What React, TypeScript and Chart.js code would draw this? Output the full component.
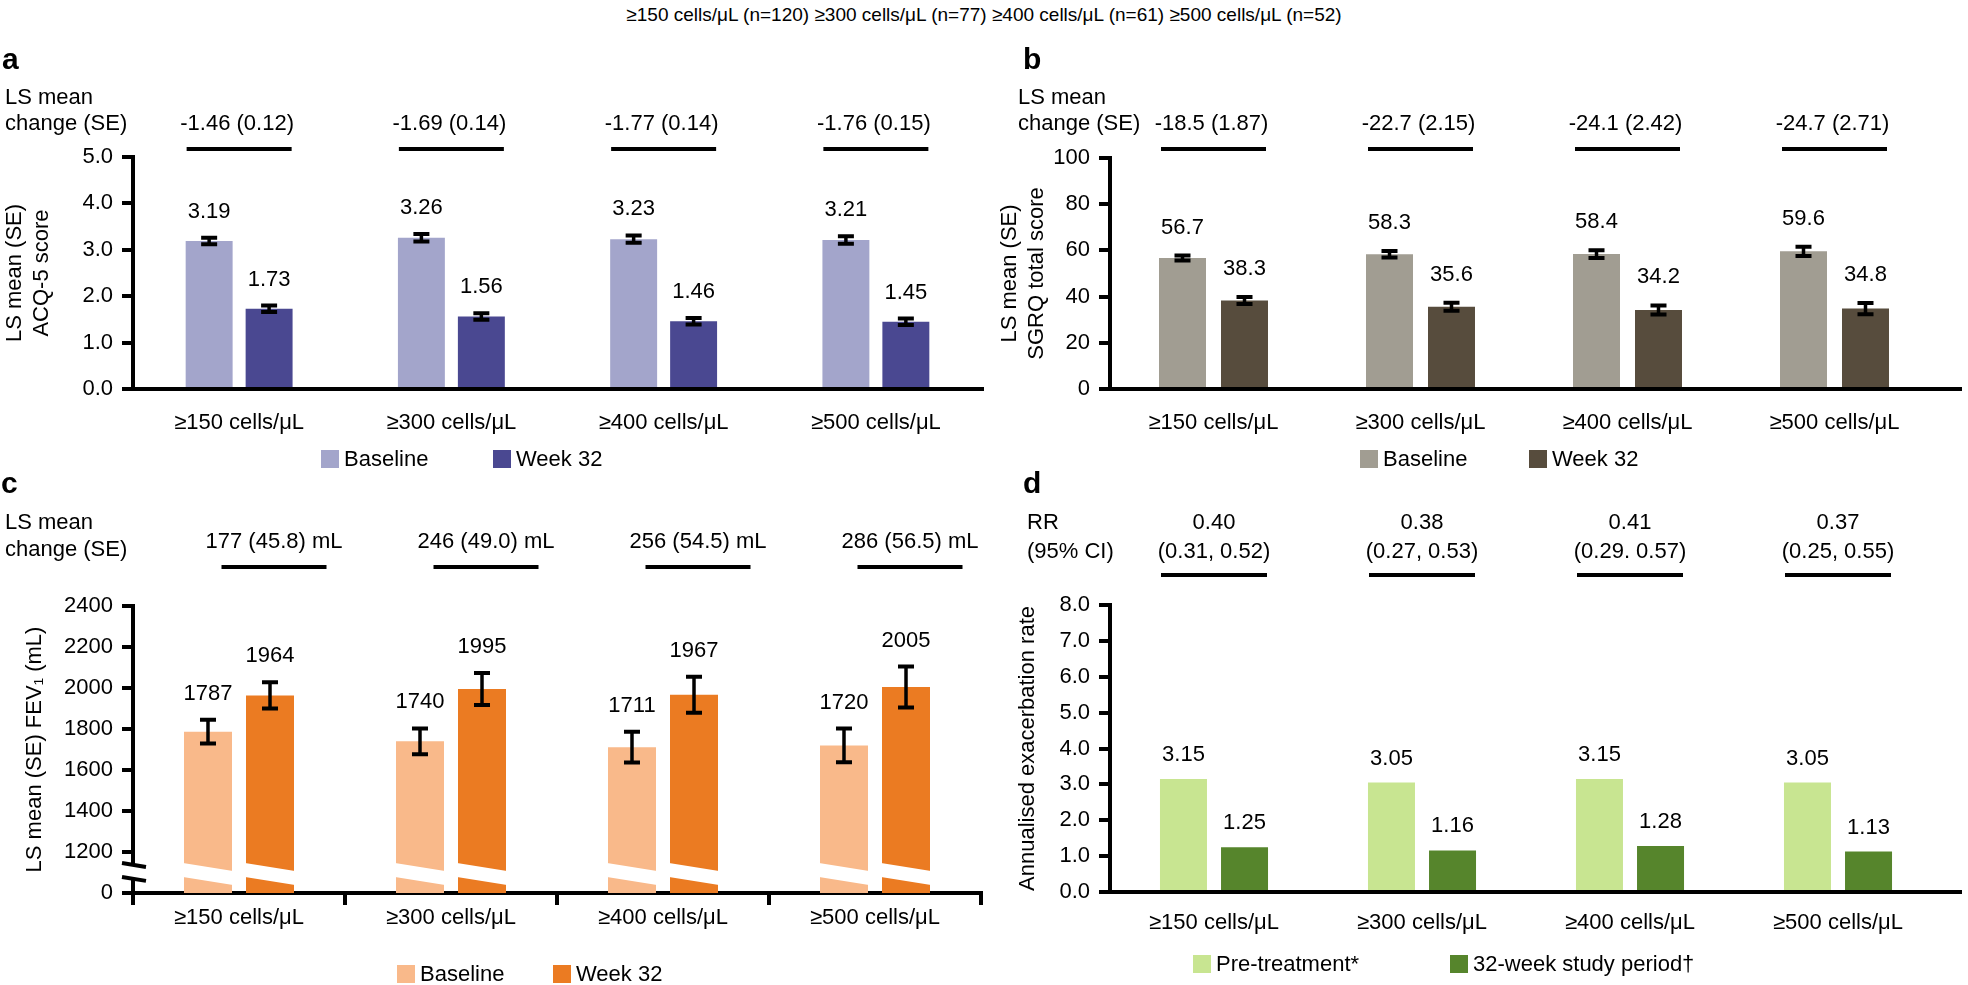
import React, { useEffect, useRef } from "react";
import { Chart, registerables } from "chart.js";

Chart.register(...registerables);

const FONT = "'Liberation Sans', Arial, Helvetica, sans-serif";

// ---------------- data ----------------
const categories = ["≥150 cells/μL", "≥300 cells/μL", "≥400 cells/μL", "≥500 cells/μL"];
const topTitle = "≥150 cells/μL (n=120) ≥300 cells/μL (n=77) ≥400 cells/μL (n=61) ≥500 cells/μL (n=52)";

// a: ACQ-5
const acqBaseline = [3.19, 3.26, 3.23, 3.21];
const acqBaselineSE = [0.07, 0.08, 0.08, 0.08];
const acqWeek32 = [1.73, 1.56, 1.46, 1.45];
const acqWeek32SE = [0.07, 0.07, 0.07, 0.07];
const acqChange = ["-1.46 (0.12)", "-1.69 (0.14)", "-1.77 (0.14)", "-1.76 (0.15)"];
const acqTicks = { min: 0, max: 5, step: 1 };

// b: SGRQ
const sgrqBaseline = [56.7, 58.3, 58.4, 59.6];
const sgrqBaselineSE = [1.1, 1.4, 1.7, 2.0];
const sgrqWeek32 = [38.3, 35.6, 34.2, 34.8];
const sgrqWeek32SE = [1.5, 1.7, 2.0, 2.4];
const sgrqChange = ["-18.5 (1.87)", "-22.7 (2.15)", "-24.1 (2.42)", "-24.7 (2.71)"];
const sgrqTicks = { min: 0, max: 100, step: 20 };

// c: FEV1
const fevBaseline = [1787, 1740, 1711, 1720];
const fevBaselineSE = [58, 63, 75, 82];
const fevWeek32 = [1964, 1995, 1967, 2005];
const fevWeek32SE = [64, 78, 88, 100];
const fevChange = ["177 (45.8) mL", "246 (49.0) mL", "256 (54.5) mL", "286 (56.5) mL"];
const fevTicks = { min: 1000, max: 2400, step: 200 }; // 1000 is shown as the broken-axis "0"
const fevBreak = { hi: 1146, lo: 1078 };

// d: exacerbations
const exaPre = [3.15, 3.05, 3.15, 3.05];
const exaStudy = [1.25, 1.16, 1.28, 1.13];
const exaRR = ["0.40", "0.38", "0.41", "0.37"];
const exaCI = ["(0.31, 0.52)", "(0.27, 0.53)", "(0.29. 0.57)", "(0.25, 0.55)"];
const exaTicks = { min: 0, max: 8, step: 1 };

// ---------------- panel specs ----------------
type Panel = {
  left: number; top: number; width: number; height: number;
  series: number[][]; se: (number[] | null)[];
  colors: string[]; legend: string[];
  ticks: { min: number; max: number; step: number };
  tickFmt: (v: number) => string; valFmt: (v: number) => string;
  yTitle: string | string[]; yTitlePad: number;
  pad: { left: number; right: number; top: number; bottom: number };
  yWidth: number; xHeight: number; catPct: number; barPct: number;
  xTicks: boolean; xLabelPad: number;
  letter: string; letterX: number; letterY: number;
  header: string[]; headerX: number; headerY: number[];
  values: string[][]; valueY: number[]; valueDx: number;
  lineY: number; lineDx: number; lineW: number;
  legendX: number[]; legendY: number;
  labelGap: number;
  axisEnd?: number;
  brk?: { hi: number; lo: number };
};

const PANELS: Panel[] = [
  {
    left: 0, top: 40, width: 984, height: 440,
    series: [acqBaseline, acqWeek32], se: [acqBaselineSE, acqWeek32SE],
    colors: ["#A3A5CB", "#4A4891"], legend: ["Baseline", "Week 32"],
    ticks: acqTicks, tickFmt: (v) => v.toFixed(1), valFmt: (v) => v.toFixed(2),
    yTitle: ["LS mean (SE)", "ACQ-5 score"], yTitlePad: 2,
    pad: { left: 0, right: 2, top: 117, bottom: 0 }, yWidth: 133, xHeight: 91,
    catPct: 0.565, barPct: 0.783, xTicks: false, xLabelPad: 21,
    letter: "a", letterX: 2, letterY: 29,
    header: ["LS mean", "change (SE)"], headerX: 5, headerY: [58, 84],
    values: acqChange.map((s) => [s]), valueY: [84], valueDx: -2,
    lineY: 109, lineDx: 0, lineW: 105,
    legendX: [321, 493], legendY: 419, labelGap: 26,
  },
  {
    left: 984, top: 40, width: 984, height: 440,
    series: [sgrqBaseline, sgrqWeek32], se: [sgrqBaselineSE, sgrqWeek32SE],
    colors: ["#A19D92", "#574C3D"], legend: ["Baseline", "Week 32"],
    ticks: sgrqTicks, tickFmt: (v) => String(v), valFmt: (v) => v.toFixed(1),
    yTitle: ["LS mean (SE)", "SGRQ total score"], yTitlePad: 13,
    pad: { left: 0, right: 30, top: 118, bottom: 0 }, yWidth: 126, xHeight: 91,
    catPct: 0.599, barPct: 0.758, xTicks: false, xLabelPad: 21,
    letter: "b", letterX: 39, letterY: 29,
    header: ["LS mean", "change (SE)"], headerX: 34, headerY: [58, 84],
    values: sgrqChange.map((s) => [s]), valueY: [84], valueDx: -2,
    lineY: 109, lineDx: 0, lineW: 105,
    legendX: [376, 545], legendY: 419, labelGap: 28, axisEnd: 978,
  },
  {
    left: 0, top: 460, width: 984, height: 525,
    series: [fevBaseline, fevWeek32], se: [fevBaselineSE, fevWeek32SE],
    colors: ["#F9B98A", "#EB7B22"], legend: ["Baseline", "Week 32"],
    ticks: fevTicks, tickFmt: (v) => (v === fevTicks.min ? "0" : String(v)), valFmt: (v) => String(v),
    yTitle: "LS mean (SE) FEV₁ (mL)", yTitlePad: 22,
    pad: { left: 0, right: 3, top: 146, bottom: 0 }, yWidth: 133, xHeight: 92,
    catPct: 0.585, barPct: 0.774, xTicks: true, xLabelPad: 0,
    letter: "c", letterX: 1, letterY: 33,
    header: ["LS mean", "change (SE)"], headerX: 5, headerY: [63, 90],
    values: fevChange.map((s) => [s]), valueY: [82], valueDx: 35,
    lineY: 107, lineDx: 35, lineW: 105,
    legendX: [397, 553], legendY: 514, labelGap: 26,
    brk: fevBreak,
  },
  {
    left: 984, top: 460, width: 984, height: 525,
    series: [exaPre, exaStudy], se: [null, null],
    colors: ["#C8E591", "#56852C"], legend: ["Pre-treatment*", "32-week study period†"],
    ticks: exaTicks, tickFmt: (v) => v.toFixed(1), valFmt: (v) => v.toFixed(2),
    yTitle: "Annualised exacerbation rate", yTitlePad: 31,
    pad: { left: 0, right: 26, top: 145, bottom: 0 }, yWidth: 126, xHeight: 93,
    catPct: 0.587, barPct: 0.77, xTicks: false, xLabelPad: 18,
    letter: "d", letterX: 39, letterY: 33,
    header: ["RR", "(95% CI)"], headerX: 43, headerY: [63, 92],
    values: exaRR.map((r, i) => [r, exaCI[i]]), valueY: [63, 92], valueDx: 0,
    lineY: 115, lineDx: 0, lineW: 106,
    legendX: [209, 466], legendY: 504, labelGap: 24, axisEnd: 978,
  },
];

function makePlugin(p: Panel) {
  return {
    id: "panelDecor" + p.letter,
    afterDatasetsDraw(chart: any) {
      const ctx = chart.ctx as CanvasRenderingContext2D;
      const ys = chart.scales.y;
      ctx.save();
      // broken axis / bars
      if (p.brk) {
        const yHi = ys.getPixelForValue(p.brk.hi);
        const yLo = ys.getPixelForValue(p.brk.lo);
        const slope = 0.16;
        const band = (x0: number, w: number) => {
          ctx.beginPath();
          ctx.moveTo(x0, yHi);
          ctx.lineTo(x0 + w, yHi + slope * w);
          ctx.lineTo(x0 + w, yLo + slope * w);
          ctx.lineTo(x0, yLo);
          ctx.closePath();
          ctx.fillStyle = "#fff";
          ctx.fill();
        };
        for (let d = 0; d < 2; d++) {
          chart.getDatasetMeta(d).data.forEach((b: any) => band(b.x - b.width / 2 - 1, b.width + 2));
        }
        const ax = chart.chartArea.left - 11;
        const aw = 24;
        band(ax, aw);
        ctx.strokeStyle = "#000";
        ctx.lineWidth = 4;
        ctx.beginPath();
        ctx.moveTo(ax, yHi);
        ctx.lineTo(ax + aw, yHi + slope * aw);
        ctx.moveTo(ax, yLo);
        ctx.lineTo(ax + aw, yLo + slope * aw);
        ctx.stroke();
      }
      // error bars + value labels
      ctx.font = `22px ${FONT}`;
      ctx.fillStyle = "#000";
      ctx.textAlign = "center";
      ctx.textBaseline = "middle";
      for (let d = 0; d < 2; d++) {
        const meta = chart.getDatasetMeta(d);
        const se = p.se[d];
        meta.data.forEach((b: any, i: number) => {
          const v = p.series[d][i];
          let topPx = b.y;
          if (se) {
            const yT = ys.getPixelForValue(v + se[i]);
            const yB = ys.getPixelForValue(v - se[i]);
            ctx.strokeStyle = "#000";
            ctx.lineWidth = 3.5;
            ctx.beginPath();
            ctx.moveTo(b.x, yT);
            ctx.lineTo(b.x, yB);
            ctx.stroke();
            ctx.lineWidth = 4;
            ctx.beginPath();
            ctx.moveTo(b.x - 8, yT);
            ctx.lineTo(b.x + 8, yT);
            ctx.moveTo(b.x - 8, yB);
            ctx.lineTo(b.x + 8, yB);
            ctx.stroke();
            topPx = yT;
          }
          ctx.fillText(p.valFmt(v), b.x, topPx - p.labelGap);
        });
      }
      ctx.restore();
    },
    afterDraw(chart: any) {
      const ctx = chart.ctx as CanvasRenderingContext2D;
      const area = chart.chartArea;
      ctx.save();
      // axis extension
      if (p.axisEnd) {
        ctx.strokeStyle = "#000";
        ctx.lineWidth = 4;
        ctx.beginPath();
        ctx.moveTo(area.right - 1, area.bottom);
        ctx.lineTo(p.axisEnd, area.bottom);
        ctx.stroke();
      }
      // panel letter
      ctx.fillStyle = "#000";
      ctx.font = `bold 30px ${FONT}`;
      ctx.textAlign = "left";
      ctx.textBaseline = "alphabetic";
      ctx.fillText(p.letter, p.letterX, p.letterY);
      // header
      ctx.font = `22px ${FONT}`;
      ctx.textBaseline = "middle";
      p.header.forEach((t, k) => ctx.fillText(t, p.headerX, p.headerY[k]));
      // per-category comparison values and lines
      const m0 = chart.getDatasetMeta(0).data;
      const m1 = chart.getDatasetMeta(1).data;
      ctx.textAlign = "center";
      m0.forEach((b0: any, i: number) => {
        const b1 = m1[i];
        const l = b0.x - b0.width / 2;
        const r = b1.x + b1.width / 2;
        const c = (l + r) / 2;
        p.values[i].forEach((t, k) => ctx.fillText(t, c + p.valueDx, p.valueY[k]));
        ctx.fillRect(c + p.lineDx - p.lineW / 2, p.lineY - 2, p.lineW, 4);
      });
      // legend
      ctx.textAlign = "left";
      p.legend.forEach((t, k) => {
        ctx.fillStyle = p.colors[k];
        ctx.fillRect(p.legendX[k], p.legendY - 9, 18, 18);
        ctx.fillStyle = "#000";
        ctx.fillText(t, p.legendX[k] + 23, p.legendY + 1);
      });
      ctx.restore();
    },
  };
}

function makeChart(canvas: HTMLCanvasElement, p: Panel) {
  const font = { family: FONT, size: 22 };
  return new Chart(canvas, {
    type: "bar",
    data: {
      labels: categories,
      datasets: p.series.map((s, k) => ({
        label: p.legend[k],
        data: s,
        backgroundColor: p.colors[k],
        borderWidth: 0,
        categoryPercentage: p.catPct,
        barPercentage: p.barPct,
      })),
    },
    options: {
      responsive: false,
      animation: false,
      events: [],
      layout: { padding: p.pad },
      plugins: { legend: { display: false }, tooltip: { enabled: false }, title: { display: false } },
      scales: {
        x: {
          grid: {
            display: p.xTicks, offset: true, drawOnChartArea: false, drawTicks: p.xTicks,
            tickLength: 12, lineWidth: 4, color: "#000",
          },
          border: { display: true, width: 4, color: "#000" },
          ticks: { color: "#000", font, padding: p.xLabelPad, maxRotation: 0, autoSkip: false },
          afterFit: (s: any) => { s.height = p.xHeight; },
        },
        y: {
          min: p.ticks.min,
          max: p.ticks.max,
          ticks: {
            stepSize: p.ticks.step, color: "#000", font, padding: 9,
            callback: (v: any) => p.tickFmt(Number(v)),
          },
          grid: { display: true, drawOnChartArea: false, drawTicks: true, tickLength: 11, lineWidth: 4, color: "#000" },
          border: { display: true, width: 4, color: "#000" },
          title: {
            display: true, text: p.yTitle, color: "#000", font,
            padding: { top: p.yTitlePad, bottom: 0 },
          },
          afterFit: (s: any) => { s.width = p.yWidth; },
        },
      },
    } as any,
    plugins: [makePlugin(p)],
  });
}

export default function App() {
  const r0 = useRef<HTMLCanvasElement>(null);
  const r1 = useRef<HTMLCanvasElement>(null);
  const r2 = useRef<HTMLCanvasElement>(null);
  const r3 = useRef<HTMLCanvasElement>(null);
  const refs = [r0, r1, r2, r3];
  useEffect(() => {
    const charts = PANELS.map((p, i) => makeChart(refs[i].current as HTMLCanvasElement, p));
    return () => charts.forEach((c) => c.destroy());
  }, []);
  return (
    <div style={{ position: "absolute", left: 0, top: 0, width: 1968, height: 985, background: "#fff", overflow: "hidden" }}>
      <div
        style={{
          position: "absolute", left: 0, top: 0, width: 1968, textAlign: "center",
          fontFamily: FONT, fontSize: 19, lineHeight: "30px", color: "#000",
        }}
      >
        {topTitle}
      </div>
      {PANELS.map((p, i) => (
        <canvas
          key={i}
          ref={refs[i]}
          width={p.width}
          height={p.height}
          style={{ position: "absolute", left: p.left, top: p.top, width: p.width, height: p.height }}
        />
      ))}
    </div>
  );
}
